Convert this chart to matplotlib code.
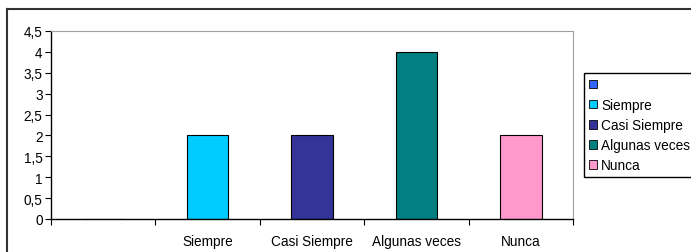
import numpy as np
import matplotlib.pyplot as plt
from matplotlib.patches import Patch
from matplotlib.ticker import FuncFormatter

plt.rcParams['font.family'] = ['Liberation Sans', 'DejaVu Sans']

# datos
categorias = ['', 'Siempre', 'Casi Siempre', 'Algunas veces', 'Nunca']
valores = [0, 2, 2, 4, 2]
colores = ['#3366FF', '#00CCFF', '#333399', '#008080', '#FF99CC']
yticks = [0, 0.5, 1, 1.5, 2, 2.5, 3, 3.5, 4, 4.5]

W, H = 691, 253
fig = plt.figure(figsize=(W / 100, H / 100), dpi=100)

# marco exterior
fig.add_artist(plt.Line2D([7 / W, 7 / W], [0, 1 - 10 / H], color='#333333', lw=1.5))
fig.add_artist(plt.Line2D([7 / W, 1], [1 - 10 / H, 1 - 10 / H], color='#333333', lw=1.5))

ax = fig.add_axes([51 / W, 33 / H, (573 - 51) / W, (220 - 32) / H])
x = np.arange(len(categorias))
ax.bar(x, valores, width=0.4, color=colores, edgecolor='black', linewidth=0.8)

ax.set_xlim(-0.5, len(categorias) - 0.5)
ax.set_ylim(0, 4.5)
ax.set_yticks(yticks)
ax.yaxis.set_major_formatter(FuncFormatter(lambda v, p: ('%g' % v).replace('.', ',')))
ax.set_xticks(np.arange(len(categorias) + 1) - 0.5)
ax.set_xticklabels([])
ax.set_xticks(x, minor=True)
ax.set_xticklabels(categorias, minor=True, fontsize=9.8)
ax.tick_params(axis='x', which='minor', length=0, pad=11)
ax.tick_params(axis='x', which='major', length=4, width=0.8)
ax.tick_params(axis='y', length=4, width=0.8, labelsize=9.8, pad=2)

for s in ['top', 'right']:
    ax.spines[s].set_color('#a0a0a0')
ax.spines['left'].set_linewidth(1)
ax.spines['bottom'].set_linewidth(1)

handles = [Patch(facecolor=c, edgecolor='black', linewidth=0.6) for c in colores]
leg = fig.legend(handles, categorias, loc='upper left',
                 bbox_to_anchor=(584 / W, 1 - 74 / H), borderaxespad=0,
                 fancybox=False, edgecolor='black', fontsize=9.8,
                 handlelength=0.6, handleheight=0.6, handletextpad=0.3,
                 labelspacing=0.45, borderpad=0.35, framealpha=1)
leg.get_frame().set_linewidth(1)

fig.savefig('out.png', dpi=100)
